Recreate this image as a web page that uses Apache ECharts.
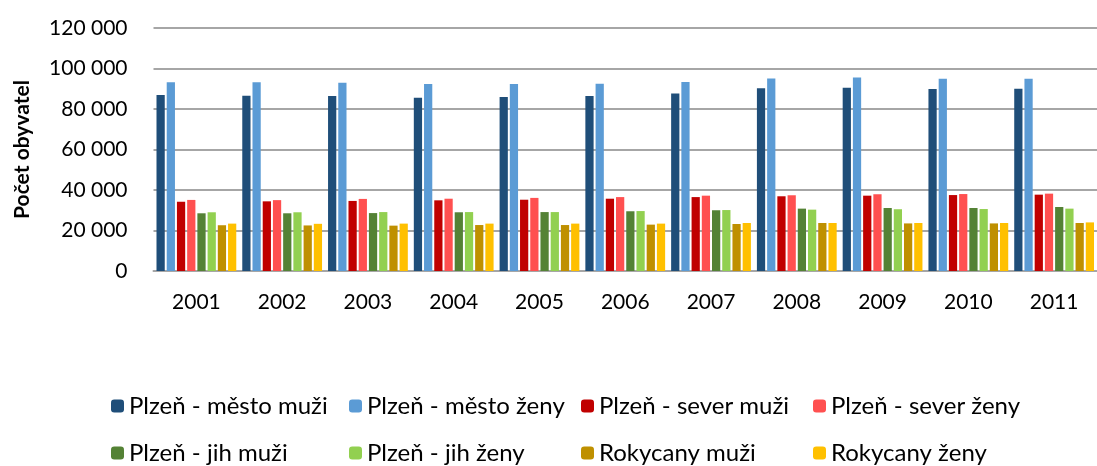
<!DOCTYPE html>
<html>

<head>
    <meta charset="utf-8">
    <script src="https://cdn.jsdelivr.net/npm/echarts@6/dist/echarts.min.js"></script>
    <style>
        html, body { margin: 0; padding: 0; background: #fff; }
        #main { width: 1097px; height: 466px; }
    </style>
</head>

<body>
    <div id="main"></div>
</body>
<script>
    var years = ['2001', '2002', '2003', '2004', '2005', '2006', '2007', '2008', '2009', '2010', '2011'];

    var mestoMuzi = [86900, 86600, 86400, 85600, 85900, 86400, 87600, 90200, 90500, 89900, 90000];
    var mestoZeny = [93200, 93200, 93000, 92400, 92400, 92500, 93300, 95100, 95500, 95000, 95000];
    var severMuzi = [34200, 34400, 34600, 34900, 35200, 35700, 36500, 36900, 37200, 37500, 37700];
    var severZeny = [35100, 35000, 35600, 35700, 36100, 36500, 37200, 37400, 37900, 38000, 38200];
    var jihMuzi = [28500, 28500, 28600, 29000, 29100, 29500, 30000, 30800, 31100, 31100, 31600];
    var jihZeny = [29000, 29000, 29100, 29100, 29100, 29600, 30100, 30300, 30500, 30600, 30800];
    var rokMuzi = [22600, 22500, 22400, 22700, 22700, 22900, 23200, 23700, 23500, 23500, 23700];
    var rokZeny = [23400, 23300, 23400, 23400, 23400, 23400, 23700, 23700, 23700, 23700, 24000];

    var names = ['Plzeň - město muži', 'Plzeň - město ženy', 'Plzeň - sever muži', 'Plzeň - sever ženy',
        'Plzeň - jih muži', 'Plzeň - jih ženy', 'Rokycany muži', 'Rokycany ženy'];
    var values = [mestoMuzi, mestoZeny, severMuzi, severZeny, jihMuzi, jihZeny, rokMuzi, rokZeny];
    var colors = ['#1F4E79', '#5B9BD5', '#C00000', '#FF5050', '#548235', '#92D050', '#BF9000', '#FFC000'];

    var font = 'Lato';

    // legend: 4 columns x 2 rows, fixed spots
    var legX = [106, 344, 576, 808];
    var legY = [389, 436];
    var legends = names.map(function (n, i) {
        return {
            data: [n],
            left: legX[i % 4],
            top: legY[Math.floor(i / 4)],
            itemWidth: 13,
            itemHeight: 13,
            itemGap: 0,
            textStyle: { fontFamily: font, fontSize: 24, color: '#000' },
            selectedMode: false
        };
    });

    var series = names.map(function (n, i) {
        return {
            name: n,
            type: 'bar',
            data: values[i],
            barGap: '24%',
            barCategoryGap: '7%',
            itemStyle: { color: colors[i] },
            animation: false
        };
    });

    var myChart = echarts.init(document.getElementById('main'));
    myChart.setOption({
        color: colors,
        animation: false,
        grid: { left: 153.5, right: -7, top: 28, bottom: 195, containLabel: false },
        legend: legends,
        xAxis: {
            type: 'category',
            data: years,
            axisLine: { lineStyle: { color: '#a6a6a6', width: 2 } },
            axisTick: { show: false },
            axisLabel: { fontFamily: font, fontSize: 21, color: '#000', margin: 21 }
        },
        yAxis: {
            type: 'value',
            min: 0,
            max: 120000,
            interval: 20000,
            name: 'Počet obyvatel',
            nameLocation: 'middle',
            nameRotate: 90,
            nameGap: 121,
            nameTextStyle: { fontFamily: font, fontSize: 21, fontWeight: 'bold', color: '#000' },
            axisLine: { show: false },
            axisTick: { show: false },
            splitLine: { lineStyle: { color: '#a6a6a6', width: 2 } },
            axisLabel: {
                fontFamily: font, fontSize: 21, color: '#000', margin: 26,
                formatter: function (v) {
                    return String(v).replace(/\B(?=(\d{3})+(?!\d))/g, ' ');
                }
            }
        },
        series: series
    });
</script>

</html>
